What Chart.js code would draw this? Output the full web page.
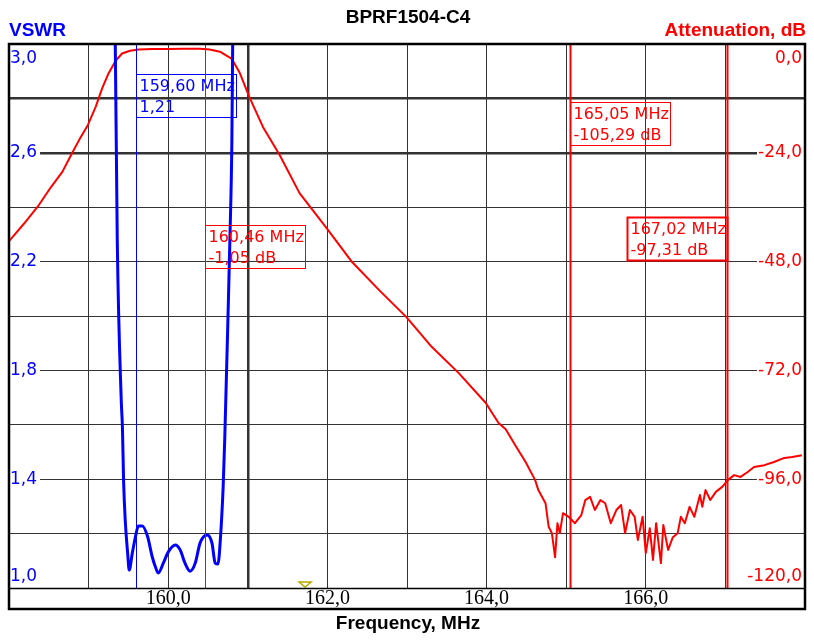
<!DOCTYPE html>
<html>
<head>
<meta charset="utf-8">
<title>BPRF1504-C4</title>
<script src="https://cdn.jsdelivr.net/npm/chart.js@4.4.0/dist/chart.umd.min.js"></script>
<style>
  body { margin: 0; background: #fff; }
  canvas { display: block; }
</style>
</head>
<body>
<canvas id="chart" width="814" height="644"></canvas>
<script>
// attenuation curve, MHz / dB
const attFreq = [158.0, 158.19, 158.36, 158.53, 158.67, 158.78, 158.88, 158.99, 159.09, 159.17,
  159.25, 159.34, 159.42, 159.52, 159.63, 159.8, 159.99, 160.2, 160.4, 160.52,
  160.65, 160.8, 160.9, 161.02, 161.19, 161.4, 161.65, 161.99, 162.31, 162.65,
  162.99, 163.31, 163.65, 163.99, 164.15, 164.24, 164.36, 164.49, 164.61, 164.65,
  164.74, 164.78, 164.82, 164.86, 164.89, 164.92, 164.96, 165.03, 165.11, 165.19,
  165.24, 165.3, 165.36, 165.43, 165.49, 165.56, 165.63, 165.69, 165.74, 165.8,
  165.86, 165.9, 165.96, 166.0, 166.05, 166.09, 166.13, 166.19, 166.22, 166.28,
  166.34, 166.4, 166.44, 166.49, 166.55, 166.61, 166.68, 166.71, 166.75, 166.81,
  166.88, 166.96, 167.03, 167.11, 167.19, 167.28, 167.36, 167.49, 167.61, 167.74,
  167.84, 167.96];
const attDb = [-43.5, -39.6, -35.9, -31.5, -28.2, -24.5, -21.2, -17.9, -13.8, -9.8,
  -6.5, -3.7, -2.1, -1.5, -1.2, -1.12, -1.08, -1.05, -1.05, -1.2,
  -1.7, -3.3, -6.4, -11.7, -18.3, -24.5, -32.9, -40.6, -48.1, -54.3,
  -60.2, -66.8, -72.6, -79.2, -83.6, -85.0, -88.5, -92.2, -96.2, -98.4,
  -101.3, -106.5, -107.9, -113.2, -105.7, -107.9, -103.5, -104.3, -105.7, -103.9,
  -100.6, -99.9, -102.8, -100.6, -101.3, -105.7, -102.8, -101.7, -107.9, -102.8,
  -104.3, -109.4, -104.3, -112.3, -106.8, -113.8, -105.7, -114.5, -106.1, -111.6,
  -108.8, -107.9, -104.3, -105.7, -102.1, -104.3, -99.5, -102.1, -98.4, -100.6,
  -98.8, -97.7, -96.2, -95.1, -95.5, -94.4, -93.3, -92.9, -92.2, -91.3,
  -91.1, -90.7];

// VSWR curve
const vswrFreq = [159.3, 159.335, 159.36, 159.41, 159.425, 159.44, 159.46, 159.49, 159.51, 159.55,
  159.59, 159.625, 159.675, 159.74, 159.8, 159.84, 159.875, 159.94, 160.0, 160.09,
  160.15, 160.21, 160.275, 160.34, 160.4, 160.49, 160.55, 160.59, 160.625, 160.66,
  160.69, 160.71, 160.75, 160.775, 160.8, 160.81, 160.83];
const vswrVal = [3.4, 3.0, 2.28, 1.69, 1.59, 1.39, 1.25, 1.13, 1.066, 1.13,
  1.19, 1.228, 1.228, 1.19, 1.114, 1.077, 1.055, 1.092, 1.132, 1.158,
  1.14, 1.092, 1.062, 1.092, 1.165, 1.195, 1.165, 1.092, 1.088, 1.2,
  1.37, 1.544, 1.985, 2.28, 2.647, 3.0, 3.4];

const vswrLabels = [3.0, 2.6, 2.2, 1.8, 1.4, 1.0];
const dbLabels = [0, -24, -48, -72, -96, -120];
const freqLabels = [160, 162, 164, 166];

const markerFreq = [159.60, 160.46, 165.05, 167.02];
const markerLine1 = ["159,60 MHz", "160,46 MHz", "165,05 MHz", "167,02 MHz"];
const markerLine2 = ["1,21", "-1,05 dB", "-105,29 dB", "-97,31 dB"];
const markerColor = ["#0000ff", "#ff0000", "#ff0000", "#ff0000"];
const markerWidth = [1, 1, 2, 2];
const boxSide = ["right", "right", "right", "left"];
const boxTop = [30, 181, 58, 173];
const boxLine = [1, 1, 1, 2];
const triangleFreq = 161.72;

function fmt(v) {
  return v.toFixed(1).replace(".", ",");
}

function toPoints(xs, ys) {
  return xs.map((x, i) => ({ x: x, y: ys[i] }));
}

function near(a, b) {
  return Math.abs(a - b) < 1e-6;
}

const overlay = {
  id: "overlay",
  beforeDraw(chart) {
    const c = chart.ctx;
    c.save();
    c.fillStyle = "#fff";
    c.fillRect(0, 0, chart.width, chart.height);
    c.restore();
  },
  afterDatasetsDraw(chart) {
    const c = chart.ctx;
    const a = chart.chartArea;
    const xs = chart.scales.x;
    const ys = chart.scales.y;
    const y2 = chart.scales.y2;
    c.save();

    // markers and their boxes
    markerFreq.forEach((f, i) => {
      const px = Math.round(xs.getPixelForValue(f)) + 0.5;
      c.strokeStyle = markerColor[i];
      c.lineWidth = markerWidth[i];
      c.beginPath();
      c.moveTo(px, a.top);
      c.lineTo(px, a.bottom);
      c.stroke();
      const top = a.top + boxTop[i] + 0.5;
      const bx = boxSide[i] === "right" ? px : px - 100;
      c.lineWidth = boxLine[i];
      c.strokeRect(bx, top, 100, 43);
      c.fillStyle = markerColor[i];
      c.font = "16px 'DejaVu Sans'";
      c.textAlign = "left";
      c.textBaseline = "middle";
      c.fillText(markerLine1[i], bx + 3, top + 12);
      c.fillText(markerLine2[i], bx + 3, top + 33);
    });

    // small triangle on the frequency axis
    const tx = xs.getPixelForValue(triangleFreq);
    c.strokeStyle = "#b4aa00";
    c.lineWidth = 1.5;
    c.beginPath();
    c.moveTo(tx - 6, a.bottom - 6);
    c.lineTo(tx + 6, a.bottom - 6);
    c.lineTo(tx, a.bottom - 1);
    c.closePath();
    c.stroke();

    // left and right tick labels, inside the plot
    c.font = "17px 'DejaVu Sans'";
    c.textBaseline = "middle";
    vswrLabels.forEach((v, i) => {
      let py = ys.getPixelForValue(v);
      if (i === 0) py += 15;
      if (i === vswrLabels.length - 1) py -= 11;
      const t = fmt(v);
      const w = c.measureText(t).width;
      c.fillStyle = "#fff";
      c.fillRect(10, py - 9, w + 3, 18);
      c.fillStyle = "#0000ff";
      c.textAlign = "left";
      c.fillText(t, 10, py);
    });
    dbLabels.forEach((v, i) => {
      let py = y2.getPixelForValue(v);
      if (i === 0) py += 15;
      if (i === dbLabels.length - 1) py -= 11;
      const t = fmt(v);
      const w = c.measureText(t).width;
      c.fillStyle = "#fff";
      c.fillRect(a.right - 4 - w, py - 9, w + 3, 18);
      c.fillStyle = "#ff0000";
      c.textAlign = "right";
      c.fillText(t, a.right - 3, py);
    });

    // frequency tick labels below the plot
    c.font = "20px 'Liberation Serif'";
    c.fillStyle = "#000";
    c.textAlign = "center";
    freqLabels.forEach((f) => {
      c.fillText(fmt(f), xs.getPixelForValue(f), a.bottom + 11);
    });

    // frame
    c.strokeStyle = "#000";
    c.lineWidth = 1.5;
    c.beginPath();
    c.moveTo(a.left, a.bottom + 0.5);
    c.lineTo(a.right, a.bottom + 0.5);
    c.stroke();
    c.lineWidth = 2.5;
    c.strokeRect(a.left, a.top, a.right - a.left, 565);

    // titles
    c.font = "bold 19px 'Liberation Sans'";
    c.textBaseline = "middle";
    c.fillStyle = "#000";
    c.textAlign = "center";
    c.fillText("BPRF1504-C4", 408, 18);
    c.fillText("Frequency, MHz", 408, 624);
    c.fillStyle = "#0000ff";
    c.textAlign = "left";
    c.fillText("VSWR", 9, 31);
    c.fillStyle = "#ff0000";
    c.textAlign = "right";
    c.fillText("Attenuation, dB", 806, 31);

    c.restore();
  }
};

const ctx = document.getElementById("chart").getContext("2d");
const myChart = new Chart(ctx, {
  type: "line",
  data: {
    datasets: [
      {
        label: "VSWR",
        data: toPoints(vswrFreq, vswrVal),
        yAxisID: "y",
        borderColor: "#0000ff",
        borderWidth: 3,
        borderJoinStyle: "round",
        pointRadius: 0,
        cubicInterpolationMode: "monotone",
      },
      {
        label: "Attenuation, dB",
        data: toPoints(attFreq, attDb),
        yAxisID: "y2",
        borderColor: "#ff0000",
        borderWidth: 2,
        borderJoinStyle: "round",
        pointRadius: 0,
        tension: 0,
      },
    ],
  },
  options: {
    responsive: false,
    animation: false,
    devicePixelRatio: 1,
    layout: { padding: { left: 9, right: 9, top: 44, bottom: 56 } },
    plugins: { legend: { display: false }, tooltip: { enabled: false } },
    scales: {
      x: {
        type: "linear",
        min: 158,
        max: 168,
        ticks: { display: false, stepSize: 1 },
        border: { display: false },
        grid: {
          drawTicks: false,
          color: "#333",
          lineWidth: (c) => (c.tick && near(c.tick.value, 161) ? 2.5 : 1),
        },
      },
      y: {
        position: "left",
        min: 1,
        max: 3,
        ticks: { display: false, stepSize: 0.2 },
        border: { display: false },
        grid: {
          drawTicks: false,
          color: "#333",
          lineWidth: (c) =>
            c.tick && (near(c.tick.value, 2.8) || near(c.tick.value, 2.6)) ? 2.5 : 1,
        },
      },
      y2: {
        position: "right",
        min: -120,
        max: 0,
        ticks: { display: false, stepSize: 12 },
        border: { display: false },
        grid: { display: false, drawTicks: false },
      },
    },
  },
  plugins: [overlay],
});
</script>
</body>
</html>
